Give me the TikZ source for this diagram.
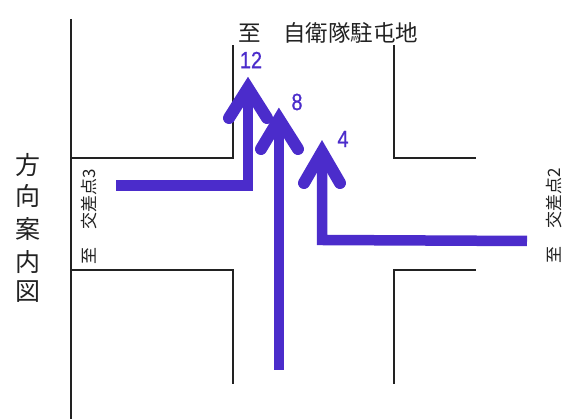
\documentclass[tikz,border=0pt]{standalone}
\usepackage{fontspec}
\setmainfont{Liberation Sans}
\newfontfamily\cjk{Noto Sans CJK JP}
\newfontfamily\numfont[AutoFakeBold=0.8]{Liberation Sans}
\definecolor{route}{HTML}{4B2CCB}
\definecolor{roadline}{HTML}{222222}
\tikzset{
  road/.style={draw=roadline,line width=1.3pt},
  routeline/.style={draw=route,line width=10.5pt,line join=miter},
  routehead/.style={draw=route,line width=12pt,line cap=round,line join=miter},
  countlabel/.style={text=route,inner sep=0pt,font=\numfont\bfseries\fontsize{23.5}{24}\selectfont},
  dest/.style={text=roadline,inner sep=0pt,font=\cjk\fontsize{22.5}{23}\selectfont},
  destside/.style={text=roadline,inner sep=0pt,rotate=90,font=\cjk\fontsize{17}{18}\selectfont},
  titlechar/.style={text=roadline,inner sep=0pt,font=\cjk\fontsize{25}{25}\selectfont}
}
\begin{document}
\begin{tikzpicture}[x=1pt,y=-1pt]
\useasboundingbox (0,0) rectangle (566,419);
% road edges
\coordinate (lt) at (71,19);
\coordinate (lb) at (71,419);
\coordinate (a1) at (71,158);
\coordinate (a2) at (233,158);
\coordinate (a3) at (233,45);
\coordinate (b1) at (394,45);
\coordinate (b2) at (394,158);
\coordinate (b3) at (476,158);
\coordinate (c1) at (71,270);
\coordinate (c2) at (233,270);
\coordinate (c3) at (233,384);
\coordinate (d1) at (394,384);
\coordinate (d2) at (394,270);
\coordinate (d3) at (476,270);
\draw[road] (lt) -- (lb);
\draw[road] (a1) -- (a2) -- (a3);
\draw[road] (b1) -- (b2) -- (b3);
\draw[road] (c1) -- (c2) -- (c3);
\draw[road] (d1) -- (d2) -- (d3);
% routes
\coordinate (r12s) at (116,185.5);
\coordinate (r12c) at (248,185.5);
\coordinate (r12t) at (248,88);
\coordinate (r12l) at (229,118);
\coordinate (r12r) at (267,118);
\coordinate (r8s) at (279,370);
\coordinate (r8t) at (279,119);
\coordinate (r8l) at (261,149);
\coordinate (r8r) at (298,149);
\coordinate (r4s) at (527,241);
\coordinate (r4c) at (322,240);
\coordinate (r4t) at (322,152);
\coordinate (r4l) at (304,183);
\coordinate (r4r) at (340,183);
\draw[routeline] (r12s) -- (r12c) -- (r12t);
\draw[routehead] (r12l) -- (r12t) -- (r12r);
\draw[routeline] (r8s) -- (r8t);
\draw[routehead] (r8l) -- (r8t) -- (r8r);
\draw[routeline] (r4s) -- (r4c) -- (r4t);
\draw[routehead] (r4l) -- (r4t) -- (r4r);
% labels
\node[countlabel,xscale=.85] (n12) at (251,60) {12};
\node[countlabel,xscale=.85] (n8) at (297,102) {8};
\node[countlabel,xscale=.85] (n4) at (343,139) {4};
\node[dest,anchor=west] (top) at (238,33) {至\hspace{1em}自衛隊駐屯地};
\node[destside,anchor=west] (west) at (89,265) {至\hspace{1.05em}交差点3};
\node[destside,anchor=west] (east) at (554,264) {至\hspace{1.05em}交差点2};
\node[titlechar] (t1) at (28.5,165) {方};
\node[titlechar] (t2) at (28.5,196) {向};
\node[titlechar] (t3) at (28.5,229) {案};
\node[titlechar] (t4) at (28.5,262) {内};
\node[titlechar] (t5) at (28.5,292) {図};
\end{tikzpicture}
\end{document}
